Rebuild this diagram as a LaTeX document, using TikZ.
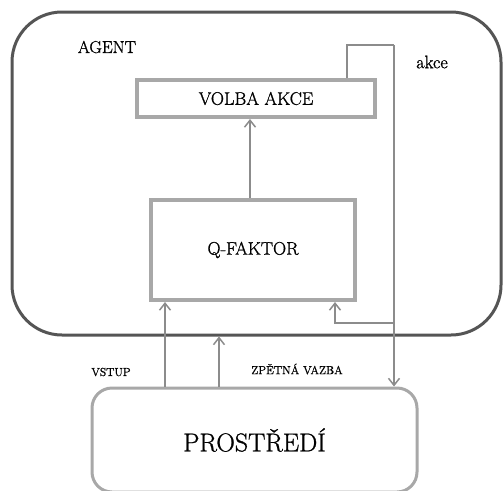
\documentclass[tikz,border=0pt]{standalone}
\usepackage{fontspec}
\setmainfont{Latin Modern Roman}[FakeBold=1]
\usetikzlibrary{arrows.meta}
\definecolor{agentc}{HTML}{555555}
\definecolor{boxc}{HTML}{A8A8A8}
\definecolor{linec}{HTML}{8C8C8C}
\tikzset{
  qbox/.style={draw=boxc, line width=4pt, fill=white, inner sep=0pt},
  conn/.style={draw=linec, line width=1.6pt},
  arr/.style={conn, -{Straight Barb[length=7pt,width=11pt,line width=1.5pt]}},
  lbl/.style={inner sep=0pt, text=black}
}
\begin{document}
\begin{tikzpicture}[x=1pt,y=-1pt]
\useasboundingbox (0,0) rectangle (503,490);
\clip (0,0) rectangle (503,490);
\node[draw=agentc, line width=3pt, rounded corners=50pt, minimum width=489pt, minimum height=323pt, inner sep=0pt] (agent) at (256.5,173.5) {};
\node[lbl, font=\fontsize{17.2}{19}\selectfont] (agentl) at (107,47) {AGENT};
\node[qbox, minimum width=238pt, minimum height=37pt, font=\fontsize{18.2}{20}\selectfont] (volba) at (256,98.5) {VOLBA AKCE};
\node[qbox, minimum width=204pt, minimum height=100pt, font=\fontsize{18.2}{20}\selectfont] (q) at (253,250) {Q-FAKTOR};
\node[draw=boxc, line width=3pt, rounded corners=20pt, minimum width=325pt, minimum height=104pt, inner sep=0pt, font=\fontsize{25.8}{28}\selectfont] (prost) at (254.5,440) {PROSTŘEDÍ};
\node[lbl, font=\fontsize{18.2}{20}\selectfont] (akce) at (432,62) {akce};
\node[lbl, font=\fontsize{11.6}{13}\selectfont] (vstup) at (111,372) {VSTUP};
\node[lbl, font=\fontsize{11.7}{13}\selectfont] (zpetna) at (297,369) {ZPĚTNÁ VAZBA};
% connectors
\coordinate (mx) at (250,0);
\coordinate (a0) at (347,78);
\coordinate (a1) at (347,45);
\coordinate (a2) at (394,45);
\coordinate (fb) at (394,323);
\coordinate (fbx) at (335,323);
\coordinate (vx) at (165,0);
\coordinate (zx) at (219,0);
\draw[arr] (mx |- q.north) -- (mx |- volba.south);
\draw[conn, line width=1.1pt] (a0) -- (a1) -- (a2);
\draw[arr] (a2) -- (a2 |- prost.north);
\draw[arr] (fb) -- (fbx) -- (fbx |- q.south);
\draw[arr] (vx |- prost.north) -- (vx |- q.south);
\draw[arr] (zx |- prost.north) -- (zx |- agent.south);
\end{tikzpicture}
\end{document}
